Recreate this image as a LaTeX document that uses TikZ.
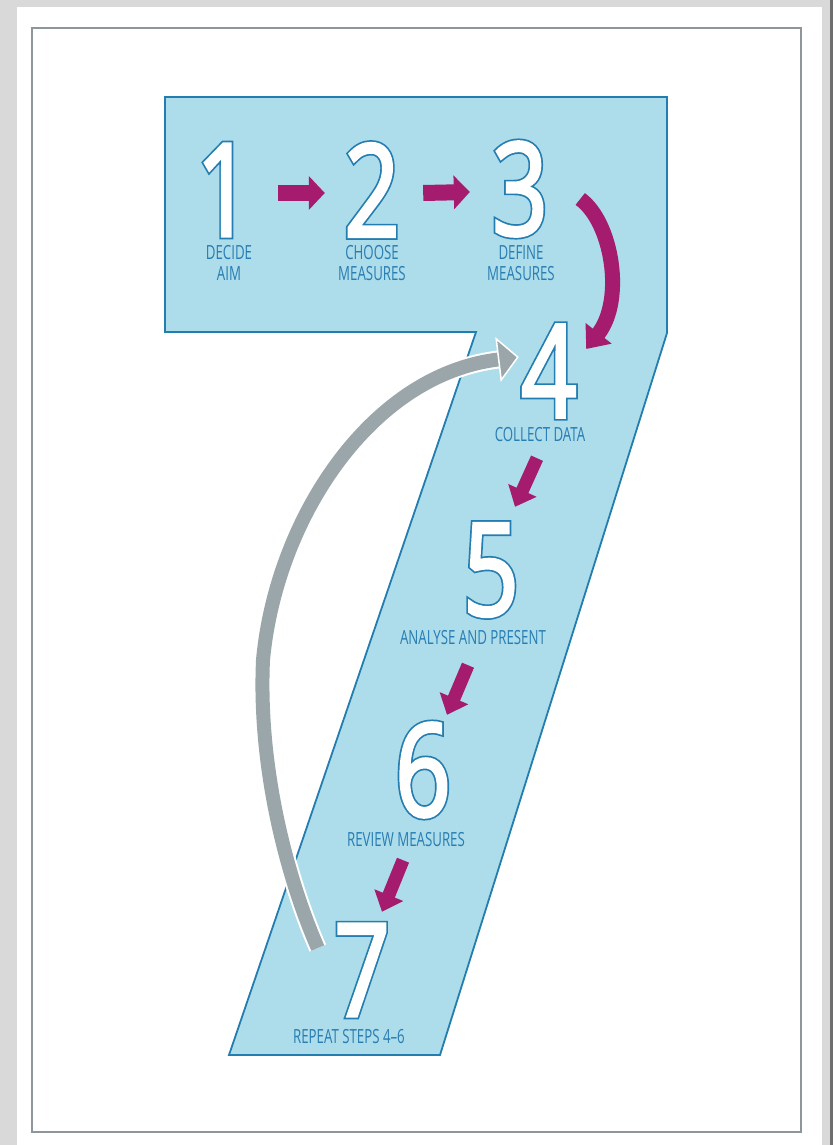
\documentclass[tikz,border=0pt]{standalone}
\usepackage{fontspec}
\usetikzlibrary{arrows.meta}
\newfontfamily\digitfont{Open Sans}[FakeStretch=0.75]
\newfontfamily\labelfont{Open Sans}[FakeStretch=0.68]
\definecolor{pagegray}{RGB}{217,217,217}
\definecolor{edgegray}{RGB}{110,110,110}
\definecolor{framegray}{RGB}{140,150,155}
\definecolor{sevenfill}{RGB}{173,220,234}
\definecolor{sevenline}{RGB}{35,125,175}
\definecolor{labelblue}{RGB}{40,125,178}
\definecolor{flowred}{RGB}{165,27,110}
\definecolor{loopgray}{RGB}{155,166,170}
% white digit with a blue stroke round it
\newcommand\outlined[1]{\rlap{\special{pdf:literal direct 2 Tr 6.4 w 0.14 0.49 0.69 RG}#1}%
  \special{pdf:literal direct 2 Tr 3 w 1 1 1 RG}#1\special{pdf:literal direct 0 Tr}}

\begin{document}
\begin{tikzpicture}[
  x=1pt, y=-1pt,
  digit/.style={text=white, inner sep=0pt, minimum width=60pt, minimum height=96pt, font=\digitfont\fontsize{129}{129}\selectfont},
  caption/.style={text=labelblue, inner sep=0pt, align=center, font=\labelfont\fontsize{19.5}{20.5}\selectfont},
  flow/.style={-{Triangle[width=33pt, length=16pt]}, line width=16pt, flowred},
  flowdown/.style={-{Triangle[width=30pt, length=18pt]}, line width=13pt, flowred},
  loopback/.style={-{Triangle[width=45pt, length=21pt, color=white, fill=loopgray, line width=1.5pt]}, line width=14pt, loopgray,
    preaction={draw=white, arrows=-, line width=18pt, shorten >=20pt}},
]
  \useasboundingbox (0,0) rectangle (833,1145);
  \fill[pagegray] (0,0) rectangle (833,1145);
  \fill[white] (17,7) rectangle (822,1145);
  \fill[edgegray] (830,0) rectangle (833,1145);
  \draw[framegray, line width=1.5pt] (32,28) rectangle (801,1132);

  % the big seven
  \draw[sevenline, fill=sevenfill, line width=1.8pt] (165,97) -- (667,97) -- (667,333) -- (440,1055)
    -- (229,1055) -- (476,332) -- (165,332) -- cycle;

  \node[digit] (n1) at (224,190) {\outlined{1}};
  \node[digit] (n2) at (372,190) {\outlined{2}};
  \node[digit] (n3) at (520,189) {\outlined{3}};
  \node[digit] (n4) at (549,371) {\outlined{4}};
  \node[digit] (n5) at (491,570) {\outlined{5}};
  \node[digit] (n6) at (423,770) {\outlined{6}};
  \node[digit] (n7) at (362,970) {\outlined{7}};

  \node[caption] (l1) at (229,263) {DECIDE\\AIM};
  \node[caption] (l2) at (372,263) {CHOOSE\\MEASURES};
  \node[caption] (l3) at (521,263) {DEFINE\\MEASURES};
  \node[caption] (l4) at (540,435) {COLLECT DATA};
  \node[caption] (l5) at (473,638) {ANALYSE AND PRESENT};
  \node[caption] (l6) at (406,840) {REVIEW MEASURES};
  \node[caption] (l7) at (349,1037) {REPEAT STEPS 4–6};

  \draw[flow] ([shift={(24,3)}]n1.east) -- ([shift={(-17,3)}]n2.west);
  \draw[flow] ([shift={(21,3)}]n2.east) -- ([shift={(-20,3)}]n3.west);
  \draw[flowdown, line width=15pt, -{Triangle[width=32pt, length=20pt]}]
    ([shift={(30,10)}]n3.east) .. controls (612,222) and (625,300) .. ([shift={(7,-22)}]n4.east);
  \draw[flowdown] ([shift={(-12,39)}]n4.south) -- ([shift={(24,-15)}]n5.north);
  \draw[flowdown] ([shift={(-23,47)}]n5.south) -- ([shift={(24,-7)}]n6.north);
  \draw[flowdown] ([shift={(-20,42)}]n6.south) -- ([shift={(20,-10)}]n7.north);

  \draw[loopback] ([shift={(-14,-22)}]n7.west) .. controls (288,880) and (258,770) .. (263,660)
    .. controls (276,520) and (370,375) .. ([shift={(0,-14)}]n4.west);
\end{tikzpicture}
\end{document}
